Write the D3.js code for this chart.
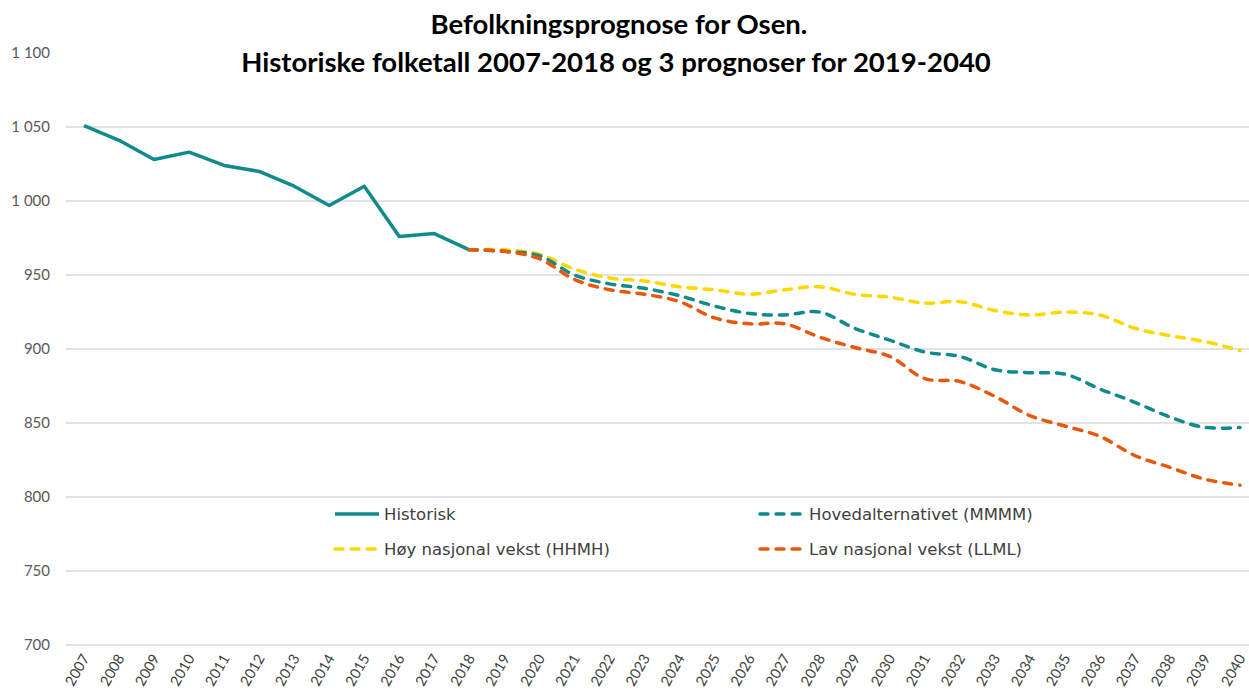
<!DOCTYPE html>
<html>
<head>
<meta charset="utf-8">
<script src="https://cdn.jsdelivr.net/npm/d3@7"></script>
<style>
  body { margin: 0; background: #fff; }
</style>
</head>
<body>
<script>
let width = 1249;
let height = 693;

let years = d3.range(2007, 2041);
let histYears = [2007, 2008, 2009, 2010, 2011, 2012, 2013, 2014, 2015, 2016, 2017, 2018];
let histValues = [1051, 1041, 1028, 1033, 1024, 1020, 1010, 997, 1010, 976, 978, 967];

let progYears = [2018, 2019, 2020, 2021, 2022, 2023, 2024, 2025, 2026, 2027, 2028, 2029,
                 2030, 2031, 2032, 2033, 2034, 2035, 2036, 2037, 2038, 2039, 2040];
let mmmm = [967, 966, 963, 950, 944, 941, 936, 929, 924, 923, 925, 914,
            906, 898, 895, 886, 884, 883, 873, 864, 854, 847, 847];
let hhmh = [967, 967, 964, 954, 948, 946, 942, 940, 937, 940, 942, 937,
            935, 931, 932, 926, 923, 925, 923, 914, 909, 905, 899];
let llml = [967, 966, 961, 947, 940, 937, 932, 921, 917, 917, 908, 901,
            895, 880, 878, 868, 855, 848, 841, 828, 820, 812, 808];

let yTicks = [700, 750, 800, 850, 900, 950, 1000, 1050, 1100];

let colTeal = "#0f8b8d";
let colYellow = "#ffd700";
let colOrange = "#e8580c";

let svg = d3.select("body").append("svg")
            .attr("width", width)
            .attr("height", height)
            .style("font-family", "Lato, 'Open Sans', sans-serif");

let x = d3.scalePoint().domain(years).range([84, 1240]);
let y = d3.scaleLinear().domain([700, 1100]).range([645, 53]);

// gridlines (top one hidden behind the title in the original)
svg.append("g").selectAll("line")
   .data(yTicks.filter(d => d < 1100))
   .join("line")
   .attr("x1", 66).attr("x2", width)
   .attr("y1", d => y(d)).attr("y2", d => y(d))
   .attr("stroke", "#d9d9d9")
   .attr("stroke-width", 1.5);

// y labels
let fmt = d => d >= 1000 ? Math.floor(d / 1000) + " " + d3.format("03")(d % 1000) : String(d);
svg.append("g").selectAll("text")
   .data(yTicks)
   .join("text")
   .attr("x", 50)
   .attr("y", d => y(d) + 5)
   .attr("text-anchor", "end")
   .attr("font-size", 15)
   .attr("fill", "#595959")
   .attr("xml:space", "preserve")
   .style("white-space", "pre")
   .text(fmt);

// x labels
svg.append("g").selectAll("text")
   .data(years)
   .join("text")
   .attr("transform", d => `translate(${x(d) + 6},${658}) rotate(-60)`)
   .attr("text-anchor", "end")
   .attr("font-size", 14.5)
   .attr("fill", "#404040")
   .text(d => d);

// lines
let straight = d3.line().x(d => x(d[0])).y(d => y(d[1]));
let smooth = d3.line().x(d => x(d[0])).y(d => y(d[1])).curve(d3.curveCatmullRom.alpha(0.5));

svg.append("path")
   .attr("d", straight(d3.zip(histYears, histValues)))
   .attr("fill", "none")
   .attr("stroke", colTeal)
   .attr("stroke-width", 3.5)
   .attr("stroke-linejoin", "round");

let prog = [
  { values: hhmh, color: colYellow },
  { values: mmmm, color: colTeal },
  { values: llml, color: colOrange }
];
prog.forEach(p => {
  svg.append("path")
     .attr("d", smooth(d3.zip(progYears, p.values)))
     .attr("fill", "none")
     .attr("stroke", p.color)
     .attr("stroke-width", 3.5)
     .attr("stroke-linecap", "round")
     .attr("stroke-dasharray", "8,8");
});

// legend
let legend = [
  { name: "Historisk", color: colTeal, dash: null, lx: 333, ly: 514 },
  { name: "Hovedalternativet (MMMM)", color: colTeal, dash: "8,8", lx: 758, ly: 514 },
  { name: "Høy nasjonal vekst (HHMH)", color: colYellow, dash: "8,8", lx: 333, ly: 549 },
  { name: "Lav nasjonal vekst (LLML)", color: colOrange, dash: "8,8", lx: 758, ly: 549 }
];
let lg = svg.append("g").selectAll("g").data(legend).join("g");
lg.append("line")
  .attr("x1", d => d.lx + 2).attr("x2", d => d.lx + 46)
  .attr("y1", d => d.ly).attr("y2", d => d.ly)
  .attr("stroke", d => d.color)
  .attr("stroke-width", 3.5)
  .attr("stroke-linecap", d => d.dash ? "round" : "butt")
  .attr("stroke-dasharray", d => d.dash);
lg.append("text")
  .attr("x", d => d.lx + 51)
  .attr("y", d => d.ly + 6)
  .attr("font-family", "'DejaVu Sans', Verdana, sans-serif")
  .attr("font-size", 16.5)
  .attr("fill", "#404040")
  .text(d => d.name);

// title
let title = svg.append("text")
   .attr("text-anchor", "middle")
   .attr("font-weight", "bold")
   .attr("font-size", 27.5)
   .attr("fill", "#000");
title.append("tspan").attr("x", 619).attr("y", 34).text("Befolkningsprognose for Osen.");
title.append("tspan").attr("x", 616).attr("y", 72).text("Historiske folketall 2007-2018 og 3 prognoser for 2019-2040");
</script>
</body>
</html>
